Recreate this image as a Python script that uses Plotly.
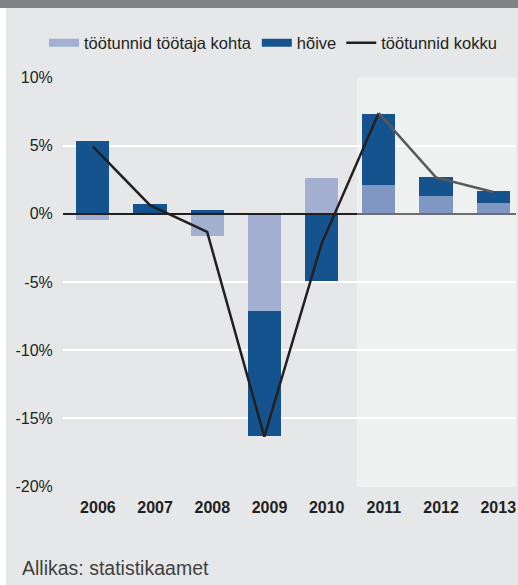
import plotly.graph_objects as go

years = ["2006", "2007", "2008", "2009", "2010", "2011", "2012", "2013"]
hours_per_worker = [-0.46, 0.0, -1.6, -7.12, 2.61, 2.12, 1.34, 0.80]   # töötunnid töötaja kohta
employment = [5.32, 0.71, 0.27, -9.2, -4.9, 5.22, 1.34, 0.86]          # hõive
total_hours = [4.95, 0.64, -1.32, -16.36, -2.2, 7.4, 2.68, 1.61]       # töötunnid kokku
n_actual = 5  # 2006-2010 actual, 2011-2013 forecast

LIGHT = "#a3b0d2"
LIGHT_FC = "#8097c3"
DARK = "#15538f"
BLACK = "#231f20"
GREY_LINE = "#58595b"
BG = "#e6e7e8"
FC_BG = "#eff0f0"
FONT = "Liberation Sans, Arial, sans-serif"

xs = list(range(len(years)))

fig = go.Figure()
fig.add_trace(go.Bar(
    x=xs, y=hours_per_worker, name="töötunnid töötaja kohta", width=0.58, showlegend=False,
    marker=dict(color=[LIGHT] * n_actual + [LIGHT_FC] * (len(years) - n_actual), line=dict(width=0)),
))
fig.add_trace(go.Bar(
    x=xs, y=employment, name="hõive", width=0.58, showlegend=False,
    marker=dict(color=DARK, line=dict(width=0)),
))
fig.add_trace(go.Scatter(
    x=xs[:n_actual + 1], y=total_hours[:n_actual + 1], name="töötunnid kokku", showlegend=False,
    mode="lines", line=dict(color=BLACK, width=2.5),
))
fig.add_trace(go.Scatter(
    x=xs[n_actual:], y=total_hours[n_actual:], name="töötunnid kokku (prognoos)",
    mode="lines", line=dict(color=GREY_LINE, width=2.5), showlegend=False,
))
# legend entries (wide swatches as in the original)
for name, color, w in [("töötunnid töötaja kohta", LIGHT, 8), ("hõive", DARK, 8), ("töötunnid kokku", BLACK, 2.5)]:
    fig.add_trace(go.Scatter(x=[None], y=[None], name=name, mode="lines",
                             line=dict(color=color, width=w), showlegend=True))

W, H = 518, 585
L, R, T, B = 63, 2, 77, 98
pw, ph = W - L - R, H - T - B
def px_x(p):
    return (p - L) / pw
def px_y(p):
    return (H - B - p) / ph

FC_START = 4.62
shapes = [
    dict(type="rect", xref="x", yref="paper", x0=FC_START, x1=1.2 * len(years), y0=0, y1=1,
         fillcolor=FC_BG, line=dict(width=0), layer="below"),
    dict(type="line", xref="paper", yref="y", x0=0, x1=px_x(357), y0=0, y1=0,
         line=dict(color=BLACK, width=2), layer="above"),
    dict(type="line", xref="x", yref="y", x0=FC_START, x1=1.2 * len(years), y0=0, y1=0,
         line=dict(color="#6d6e71", width=2), layer="above"),
    dict(type="rect", xref="paper", yref="paper", x0=px_x(0), x1=px_x(W), y0=px_y(0), y1=px_y(8),
         fillcolor="#808285", line=dict(width=0), layer="above"),
    dict(type="rect", xref="paper", yref="paper", x0=px_x(0), x1=px_x(6), y0=px_y(H), y1=px_y(8),
         fillcolor="#ffffff", line=dict(width=0), layer="above"),
]

fig.update_layout(
    width=W, height=H,
    margin=dict(l=L, r=R, t=T, b=B, pad=0),
    paper_bgcolor=BG, plot_bgcolor=BG,
    barmode="relative", bargap=0,
    font=dict(family=FONT, size=16, color=BLACK),
    showlegend=True,
    legend=dict(orientation="h", x=px_x(44), xanchor="left", y=px_y(43), yanchor="middle",
                bgcolor="rgba(0,0,0,0)", font=dict(size=16.5, color=BLACK),
                traceorder="normal", itemwidth=30, tracegroupgap=0),
    shapes=shapes,
    annotations=[dict(text="Allikas: statistikaamet", xref="paper", yref="paper",
                      x=px_x(20), y=px_y(568), xanchor="left", yanchor="middle",
                      showarrow=False, font=dict(size=19.5, color="#3f3f41"))],
    xaxis=dict(range=[-0.52, 7.40], tickmode="array", tickvals=[i + 0.09 for i in xs], ticktext=years,
               showgrid=False, zeroline=False, showline=False,
               ticks="outside", ticklen=6, tickcolor="rgba(0,0,0,0)",
               tickfont=dict(family=FONT, size=16, color=BLACK, weight="bold")),
    yaxis=dict(range=[-20.05, 10.05], tickmode="array", tickvals=[-20, -15, -10, -5, 0, 5, 10],
               ticktext=["-20%", "-15%", "-10%", "-5%", "0%", "5%", "10%"],
               showgrid=True, gridcolor="#ffffff", gridwidth=1.5, zeroline=False, showline=False,
               ticks="outside", ticklen=6, tickcolor="rgba(0,0,0,0)",
               tickfont=dict(family=FONT, size=16, color=BLACK)),
)

fig.write_html("out.html", config={"displayModeBar": False},
               post_script="document.body.style.margin='0';document.body.style.overflow='hidden';"
                           "document.documentElement.style.overflow='hidden';")
